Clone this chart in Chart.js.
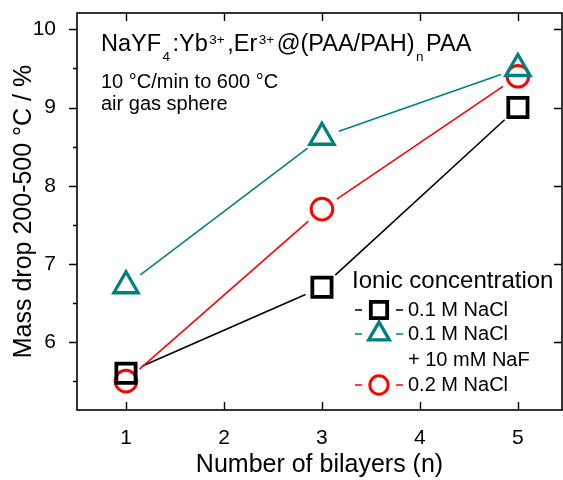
<!DOCTYPE html>
<html>
<head>
<meta charset="utf-8">
<script src="https://cdn.jsdelivr.net/npm/chart.js@4/dist/chart.umd.min.js"></script>
<style>
  html, body { margin: 0; background: #fff; }
</style>
</head>
<body>
<canvas id="chart" width="563" height="480"></canvas>
<script>
// data
const bilayers = [1, 3, 5];
const nacl01 = [5.6, 6.7, 9.0];
const nacl01NaF = [6.72, 8.62, 9.5];
const nacl02 = [5.5, 7.7, 9.4];

const xTicks = [1, 2, 3, 4, 5];
const yTicks = [6, 7, 8, 9, 10];
const yMinorTicks = [5.5, 6.5, 7.5, 8.5, 9.5];

const legendTitle = 'Ionic concentration';
const seriesNames = [['0.1 M NaCl'], ['0.1 M NaCl', '+ 10 mM NaF'], ['0.2 M NaCl']];
const noteLines = ['10 \u00B0C/min to 600 \u00B0C', 'air gas sphere'];
const titleParts = [
  ['NaYF', 'n'], ['4', 'sub'], [':Yb', 'n'], ['3+', 'sup'], [',Er', 'n'], ['3+', 'sup'],
  ['@(PAA/PAH)', 'n'], ['n', 'sub'], ['PAA', 'n']
];

const FONT = 'Arial, "Liberation Sans", sans-serif';
const TEAL = '#008080';

function pts(ys) {
  return bilayers.map((x, i) => ({ x: x, y: ys[i] }));
}

function makeSet(name, ys, color, style, radius, stroke) {
  return {
    label: name,
    data: pts(ys),
    showLine: false,
    borderColor: color,
    backgroundColor: 'rgba(0,0,0,0)',
    pointStyle: style,
    pointRadius: radius,
    pointHoverRadius: radius,
    pointBorderWidth: stroke,
    pointBackgroundColor: 'rgba(0,0,0,0)',
    pointBorderColor: color,
    gap: 18
  };
}

// connecting lines that stop short of the hollow symbols
const gapLines = {
  id: 'gapLines',
  beforeDatasetsDraw(chart) {
    const ctx = chart.ctx;
    chart.data.datasets.forEach((ds, i) => {
      const p = chart.getDatasetMeta(i).data;
      ctx.save();
      ctx.strokeStyle = ds.borderColor;
      ctx.lineWidth = 1.6;
      for (let k = 0; k < p.length - 1; k++) {
        const a = p[k], b = p[k + 1];
        const dx = b.x - a.x, dy = b.y - a.y, len = Math.hypot(dx, dy);
        if (len <= 2 * ds.gap) continue;
        ctx.beginPath();
        ctx.moveTo(a.x + dx / len * ds.gap, a.y + dy / len * ds.gap);
        ctx.lineTo(b.x - dx / len * ds.gap, b.y - dy / len * ds.gap);
        ctx.stroke();
      }
      ctx.restore();
    });
  }
};

// frame, inward/outward ticks, text notes and legend
const decor = {
  id: 'decor',
  afterDraw(chart) {
    const ctx = chart.ctx;
    const a = chart.chartArea;
    const xs = chart.scales.x, ys = chart.scales.y;
    ctx.save();
    ctx.strokeStyle = '#000';
    ctx.lineWidth = 1.6;
    ctx.strokeRect(a.left, a.top, a.right - a.left, a.bottom - a.top);

    ctx.lineWidth = 1.4;
    ctx.beginPath();
    xTicks.forEach(v => {
      const px = Math.round(xs.getPixelForValue(v)) + 0.5;
      ctx.moveTo(px, a.bottom); ctx.lineTo(px, a.bottom - 8);
      ctx.moveTo(px, a.top); ctx.lineTo(px, a.top + 8);
    });
    yTicks.forEach(v => {
      const py = Math.round(ys.getPixelForValue(v)) + 0.5;
      ctx.moveTo(a.left, py); ctx.lineTo(a.left - 8, py);
      ctx.moveTo(a.right, py); ctx.lineTo(a.right - 8, py);
    });
    yMinorTicks.forEach(v => {
      const py = Math.round(ys.getPixelForValue(v)) + 0.5;
      ctx.moveTo(a.left, py); ctx.lineTo(a.left - 4, py);
    });
    ctx.stroke();

    // compound title with sub/superscripts
    ctx.fillStyle = '#000';
    ctx.textBaseline = 'alphabetic';
    ctx.textAlign = 'left';
    let x = 101;
    titleParts.forEach(([t, kind]) => {
      let y = 51;
      if (kind === 'n') ctx.font = '23.5px ' + FONT;
      else ctx.font = '13.5px ' + FONT;
      if (kind === 'sub') y = 61;
      if (kind === 'sup') y = 44;
      if (kind !== 'n') x += 1.5;
      ctx.fillText(t, x, y);
      x += ctx.measureText(t).width + (kind === 'n' ? 0 : 2.5);
    });

    ctx.font = '20px ' + FONT;
    noteLines.forEach((t, i) => ctx.fillText(t, 101, 88 + i * 22));

    // legend
    ctx.font = '24px ' + FONT;
    ctx.fillText(legendTitle, 352, 288);
    ctx.font = '20px ' + FONT;
    const baselines = [[316], [340, 366], [391]];
    chart.data.datasets.forEach((ds, i) => {
      const yb = baselines[i][0];
      const cy = yb - 6;
      ctx.strokeStyle = ds.borderColor;
      ctx.lineWidth = 1.6;
      ctx.beginPath();
      ctx.moveTo(355, cy); ctx.lineTo(362, cy);
      ctx.moveTo(396, cy); ctx.lineTo(403, cy);
      ctx.stroke();
      ctx.lineWidth = ds.pointBorderWidth;
      ctx.fillStyle = 'rgba(0,0,0,0)';
      Chart.helpers.drawPoint(ctx, {
        pointStyle: ds.pointStyle,
        radius: ds.pointRadius * 0.85,
        borderWidth: ds.pointBorderWidth,
        rotation: 0
      }, 379, cy);
      ctx.fillStyle = '#000';
      seriesNames[i].forEach((t, j) => ctx.fillText(t, 408, baselines[i][j]));
    });
    ctx.restore();
  }
};

const tickFont = { family: FONT, size: 21 };
const titleFont = { family: FONT, size: 25 };

new Chart(document.getElementById('chart'), {
  type: 'scatter',
  data: {
    datasets: [
      makeSet(seriesNames[0].join(' '), nacl01, '#000000', 'rect', 13.6, 3.8),
      makeSet(seriesNames[1].join(' '), nacl01NaF, TEAL, 'triangle', 14, 3.3),
      makeSet(seriesNames[2].join(' '), nacl02, '#ff0000', 'circle', 10.8, 3)
    ]
  },
  options: {
    responsive: false,
    animation: false,
    devicePixelRatio: 1,
    layout: { autoPadding: false, padding: { top: 13, right: 1, left: 0, bottom: 0 } },
    plugins: { legend: { display: false }, tooltip: { enabled: false } },
    scales: {
      x: {
        type: 'linear',
        min: 0.5,
        max: 5.45,
        grid: { display: false },
        border: { display: false },
        afterBuildTicks: s => { s.ticks = xTicks.map(v => ({ value: v })); },
        afterFit: s => { s.height = 70; s.paddingLeft = 0; s.paddingRight = 0; },
        ticks: { font: tickFont, color: '#000', padding: 8, maxRotation: 0, autoSkip: false },
        title: { display: true, text: 'Number of bilayers (n)', font: titleFont, color: '#000', padding: { top: 0, bottom: 0 } }
      },
      y: {
        type: 'linear',
        min: 5.13,
        max: 10.21,
        grid: { display: false },
        border: { display: false },
        afterBuildTicks: s => { s.ticks = yTicks.map(v => ({ value: v })); },
        afterFit: s => { s.width = 77; s.paddingTop = 0; s.paddingBottom = 0; },
        ticks: { font: tickFont, color: '#000', padding: 13, autoSkip: false },
        title: { display: true, text: 'Mass drop 200-500 \u00B0C / %', font: titleFont, color: '#000', padding: { top: 9, bottom: 0 } }
      }
    }
  },
  plugins: [gapLines, decor]
});
</script>
</body>
</html>
